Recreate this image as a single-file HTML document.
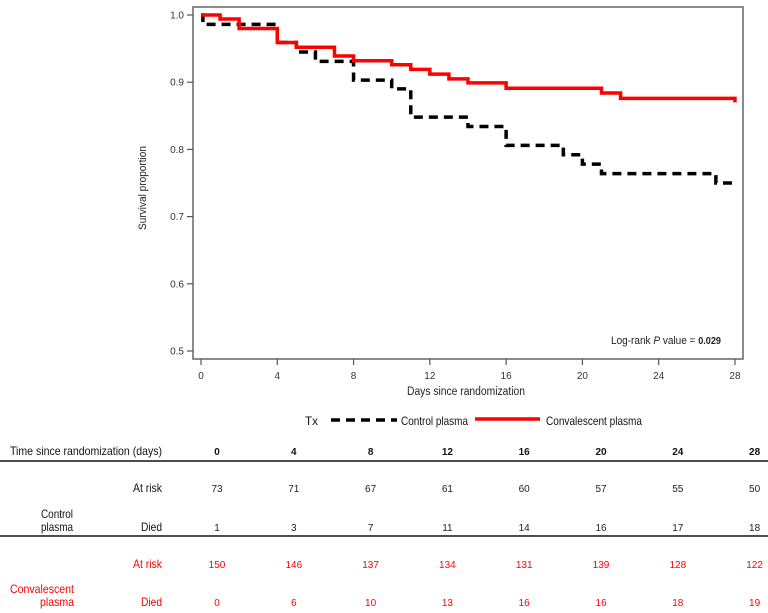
<!DOCTYPE html>
<html><head><meta charset="utf-8"><style>
html,body{margin:0;padding:0;background:#fff;}
svg{display:block;font-family:"Liberation Sans",Arial,sans-serif;}
</style></head><body>
<svg id="chart" width="768" height="613" viewBox="0 0 768 613" xmlns="http://www.w3.org/2000/svg">
<rect x="193" y="7" width="550" height="352" fill="none" stroke="#666" stroke-width="1.5"/>
<g id="axes"></g>
<g id="curves"></g>
<text x="146" y="188" transform="rotate(-90 146 188)" text-anchor="middle" font-size="11" textLength="84" lengthAdjust="spacingAndGlyphs" fill="#222">Survival proportion</text>
<text x="407" y="395" font-size="11.5" textLength="118" lengthAdjust="spacingAndGlyphs" fill="#222">Days since randomization</text>
<text x="611" y="344" font-size="11" textLength="110" lengthAdjust="spacingAndGlyphs" fill="#222">Log-rank <tspan font-style="italic">P</tspan> value = <tspan font-weight="bold" font-size="10">0.029</tspan></text>
<g>
<text x="305" y="425" font-size="12" textLength="13" lengthAdjust="spacingAndGlyphs" fill="#111">Tx</text>
<line x1="331" y1="420" x2="397" y2="420" stroke="#000" stroke-width="3.5" stroke-dasharray="9,6"/>
<text x="401" y="425" font-size="12" textLength="67" lengthAdjust="spacingAndGlyphs" fill="#111">Control plasma</text>
<line x1="475" y1="419" x2="540" y2="419" stroke="#f00" stroke-width="3.5"/>
<text x="546" y="425" font-size="12" textLength="96" lengthAdjust="spacingAndGlyphs" fill="#111">Convalescent plasma</text>
</g>
<g id="table">
<text x="10" y="455" font-size="12" textLength="152" lengthAdjust="spacingAndGlyphs" fill="#111">Time since randomization (days)</text>
<line x1="0" y1="461" x2="768" y2="461" stroke="#111" stroke-width="1.5"/>
<line x1="0" y1="536" x2="768" y2="536" stroke="#111" stroke-width="1.5"/>
<text x="133" y="492" font-size="12" textLength="29" lengthAdjust="spacingAndGlyphs" fill="#111">At risk</text>
<text x="41" y="518" font-size="12" textLength="32" lengthAdjust="spacingAndGlyphs" fill="#111">Control</text>
<text x="41" y="531" font-size="12" textLength="32" lengthAdjust="spacingAndGlyphs" fill="#111">plasma</text>
<text x="141" y="531" font-size="12" textLength="21" lengthAdjust="spacingAndGlyphs" fill="#111">Died</text>
<text x="133" y="568" font-size="12" textLength="29" lengthAdjust="spacingAndGlyphs" fill="#f00">At risk</text>
<text x="10" y="593" font-size="12" textLength="64" lengthAdjust="spacingAndGlyphs" fill="#f00">Convalescent</text>
<text x="40" y="606" font-size="12" textLength="34" lengthAdjust="spacingAndGlyphs" fill="#f00">plasma</text>
<text x="141" y="606" font-size="12" textLength="21" lengthAdjust="spacingAndGlyphs" fill="#f00">Died</text>
</g>
</svg>
<script>
const xTicks = [0,4,8,12,16,20,24,28];
const yTicks = [0.5,0.6,0.7,0.8,0.9,1.0];
const controlTimes = [0,0.1,4,5,6,8,10,11,14,16,19,20,21,27,28];
const controlSurv = [1.0,0.986,0.959,0.945,0.931,0.903,0.890,0.848,0.834,0.806,0.792,0.778,0.764,0.750,0.750];
const convTimes = [0,1,2,4,5,7,8,10,11,12,13,14,16,21,22,28];
const convSurv = [1.0,0.994,0.980,0.959,0.952,0.939,0.932,0.926,0.919,0.912,0.905,0.899,0.891,0.884,0.876,0.870];
const tableDays = [0,4,8,12,16,20,24,28];
const controlAtRisk = [73,71,67,61,60,57,55,50];
const controlDied = [1,3,7,11,14,16,17,18];
const convAtRisk = [150,146,137,134,131,139,128,122];
const convDied = [0,6,10,13,16,16,18,19];

const NS = "http://www.w3.org/2000/svg";
const xS = d => 201 + d * 19.07;
const yS = v => 15 + (1 - v) * 672;
const colX = d => 217 + d * 19.2;
function mk(tag, attrs, parent){const e=document.createElementNS(NS,tag);for(const k in attrs)e.setAttribute(k,attrs[k]);parent.appendChild(e);return e;}
const axes=document.getElementById('axes');
xTicks.forEach(t=>{
  const l=mk('line',{x1:xS(t),x2:xS(t),y1:359,y2:365,stroke:'#555','stroke-width':1.2},axes);
  
  
  const tx=mk('text',{x:xS(t),y:379,'text-anchor':'middle','font-size':10,fill:'#333'},axes);
  tx.textContent=t;
  
  
});
yTicks.forEach(t=>{
  const l=mk('line',{x1:187,x2:193,y1:yS(t),y2:yS(t),stroke:'#555','stroke-width':1.2},axes);
  
  
  const tx=mk('text',{x:184,y:yS(t)+3.5,'text-anchor':'end','font-size':10,fill:'#333'},axes);
  tx.textContent=t.toFixed(1);
  
  
});
function stepPath(ts,vs){
  let d='M'+xS(ts[0])+','+yS(vs[0]);
  for(let i=1;i<ts.length;i++){d+=' H'+xS(ts[i])+' V'+yS(vs[i]);}
  return d;
}
const curves=document.getElementById('curves');
const pc=mk('path',{d:stepPath(controlTimes,controlSurv),fill:'none',stroke:'#000','stroke-width':3.5,'stroke-dasharray':'9,6'},curves);


const pr=mk('path',{d:stepPath(convTimes,convSurv),fill:'none',stroke:'#f00','stroke-width':3.5},curves);


const tbl=document.getElementById('table');
function row(vals,y,color,bold,name){
  vals.forEach((v,i)=>{
    const t=mk('text',{x:colX(tableDays[i]),y:y,'text-anchor':'middle','font-size':10,fill:color,'font-weight':bold?'bold':'normal'},tbl);
    t.textContent=v;
    
    
  });
}
row(tableDays,455,'#111',true,'table-day-header');
row(controlAtRisk,492,'#222',false,'control-at-risk-value');
row(controlDied,531,'#222',false,'control-died-value');
row(convAtRisk,568,'#f00',false,'conv-at-risk-value');
row(convDied,606,'#f00',false,'conv-died-value');
</script>
</body></html>
